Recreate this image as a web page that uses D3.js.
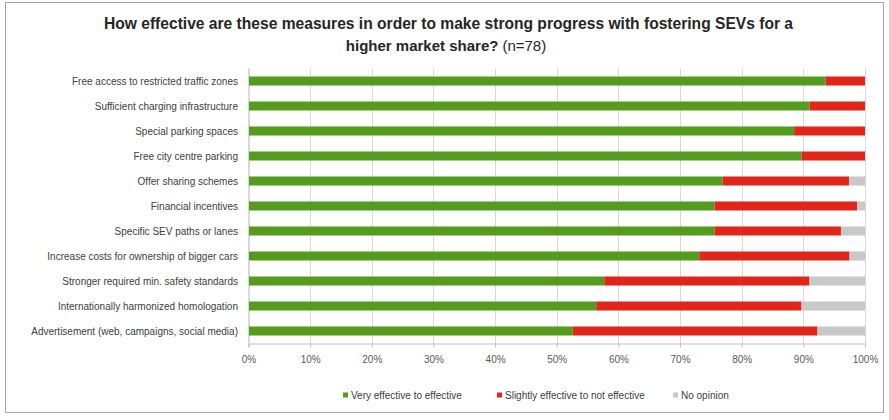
<!DOCTYPE html>
<html>
<head>
<meta charset="utf-8">
<script src="https://cdn.jsdelivr.net/npm/d3@7"></script>
<style>
	body { margin: 0; background: #fff; }
	svg { display: block; }
</style>
</head>
<body>
<svg id="chart" width="889" height="420"></svg>
<script>
// survey answers, share of n=78 in percent
const categories = [
	"Free access to restricted traffic zones",
	"Sufficient charging infrastructure",
	"Special parking spaces",
	"Free city centre parking",
	"Offer sharing schemes",
	"Financial incentives",
	"Specific SEV paths or lanes",
	"Increase costs for ownership of bigger cars",
	"Stronger required min. safety standards",
	"Internationally harmonized homologation",
	"Advertisement (web, campaigns, social media)"
];
const effective = [93.6, 91.0, 88.5, 89.7, 76.9, 75.6, 75.6, 73.1, 57.7, 56.4, 52.6];
const notEffective = [6.4, 9.0, 11.5, 10.3, 20.5, 23.1, 20.5, 24.4, 33.3, 33.3, 39.7];
const noOpinion = [0, 0, 0, 0, 2.6, 1.3, 3.9, 2.5, 9.0, 10.3, 7.7];
const seriesNames = ["Very effective to effective", "Slightly effective to not effective", "No opinion"];
const tickValues = [0, 10, 20, 30, 40, 50, 60, 70, 80, 90, 100];

const colors = ["#559b1e", "#e0261a", "#c8c8c8"];

const svg = d3.select("#chart");

const margin = {left: 248.5, right: 865, top: 68.5, bottom: 343.5};
const font = "Liberation Sans, Arial, sans-serif";

// outer frame
svg.append("rect")
	.attr("x", 5.5).attr("y", 2.5)
	.attr("width", 878).attr("height", 410)
	.attr("fill", "#fff")
	.attr("stroke", "#a6a6a6");

// title (first line squeezed a bit, the original font is narrower)
const title = svg.append("g").attr("font-family", font).attr("fill", "#262626");
title.append("text")
	.attr("x", 104).attr("y", 29)
	.attr("font-size", "16px")
	.attr("font-weight", "bold")
	.attr("textLength", 689).attr("lengthAdjust", "spacingAndGlyphs")
	.text("How effective are these measures in order to make strong progress with fostering SEVs for a");
const line2 = title.append("text")
	.attr("x", 446).attr("y", 51)
	.attr("text-anchor", "middle")
	.attr("font-size", "15px");
line2.append("tspan").attr("font-weight", "bold").text("higher market share?");
line2.append("tspan").attr("dx", 4).text("(n=78)");

const x = d3.scaleLinear().domain([0, 100]).range([margin.left, margin.right]);
const y = d3.scaleBand().domain(categories)
	.range([margin.top, margin.bottom])
	.paddingInner(0.64).paddingOuter(0.32);

// gridlines
svg.append("g")
	.selectAll("line")
	.data(tickValues)
	.enter().append("line")
		.attr("x1", d => Math.round(x(d)) + 0.5)
		.attr("x2", d => Math.round(x(d)) + 0.5)
		.attr("y1", margin.top)
		.attr("y2", margin.bottom)
		.attr("stroke", "#d9d9d9");

// stacked bars
const rows = categories.map((c, i) => ({
	category: c,
	0: effective[i], 1: notEffective[i], 2: noOpinion[i]
}));
const stack = d3.stack().keys([0, 1, 2])(rows);

svg.append("g")
	.selectAll("g")
	.data(stack)
	.enter().append("g")
		.attr("fill", (d, i) => colors[i])
	.selectAll("rect")
	.data(d => d)
	.enter().append("rect")
		.attr("x", d => x(d[0]))
		.attr("y", d => y(d.data.category))
		.attr("width", d => x(d[1]) - x(d[0]))
		.attr("height", y.bandwidth());

// x axis
const xAxis = svg.append("g")
	.attr("transform", "translate(0," + margin.bottom + ")")
	.call(d3.axisBottom(x).tickValues(tickValues).tickSize(4).tickPadding(8).tickFormat(d => d + "%"));
xAxis.select(".domain").attr("stroke", "#bfbfbf");
xAxis.selectAll(".tick line").attr("stroke", "#bfbfbf");
xAxis.selectAll("text")
	.attr("fill", "#595959")
	.attr("font-size", "10px")
	.attr("font-family", font);

// y axis line + category labels
svg.append("line")
	.attr("x1", margin.left).attr("x2", margin.left)
	.attr("y1", margin.top).attr("y2", margin.bottom)
	.attr("stroke", "#d9d9d9");

svg.append("g")
	.selectAll("text")
	.data(categories)
	.enter().append("text")
		.attr("x", 238)
		.attr("y", d => y(d) + y.bandwidth() / 2)
		.attr("dy", "0.35em")
		.attr("text-anchor", "end")
		.attr("font-size", "10px")
		.attr("font-family", font)
		.attr("fill", "#404040")
		.text(d => d);

// legend
const legendX = [343, 497, 673];
const legend = svg.append("g")
	.selectAll("g")
	.data(seriesNames)
	.enter().append("g")
		.attr("transform", (d, i) => "translate(" + legendX[i] + ",395)");
legend.append("rect")
	.attr("x", 0).attr("y", -2.5)
	.attr("width", 5).attr("height", 5)
	.attr("fill", (d, i) => colors[i]);
legend.append("text")
	.attr("x", 8).attr("dy", "0.35em")
	.attr("font-size", "10px")
	.attr("font-family", font)
	.attr("fill", "#404040")
	.text(d => d);
</script>
</body>
</html>
